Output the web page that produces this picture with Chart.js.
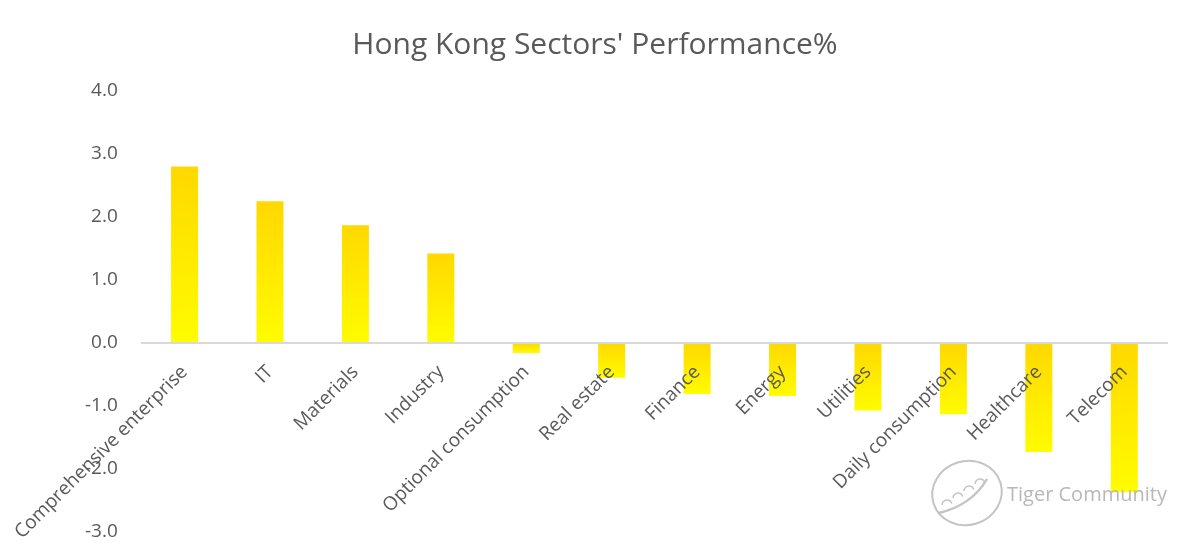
<!DOCTYPE html>
<html>
<head>
<meta charset="utf-8">
<script src="https://cdn.jsdelivr.net/npm/chart.js@4.4.1/dist/chart.umd.min.js"></script>
<style>
  html, body { margin: 0; padding: 0; background: #fff; }
  #wrap { width: 1190px; height: 555px; position: relative; }
</style>
</head>
<body>
<div id="wrap"><canvas id="c" width="1190" height="555"></canvas></div>
<script>
const titleText = "Hong Kong Sectors' Performance%";
const categories = ['Comprehensive enterprise', 'IT', 'Materials', 'Industry', 'Optional consumption', 'Real estate', 'Finance', 'Energy', 'Utilities', 'Daily consumption', 'Healthcare', 'Telecom'];
const performance = [2.80, 2.25, 1.87, 1.42, -0.16, -0.55, -0.81, -0.84, -1.07, -1.13, -1.73, -2.37];
const yTicks = [-3, -2, -1, 0, 1, 2, 3, 4];
const watermarkText = 'Tiger Community';

const FONT = "'Open Sans', 'Noto Sans', sans-serif";
const TEXT = '#595959';

function barGradient(ctx) {
  const chart = ctx.chart;
  const area = chart.chartArea;
  const y = chart.scales.y;
  if (!area || !y || ctx.type !== 'data') return '#FFE800';
  const v = ctx.raw;
  const p0 = y.getPixelForValue(0);
  const p1 = y.getPixelForValue(v);
  const top = Math.min(p0, p1), bottom = Math.max(p0, p1);
  if (!isFinite(top) || bottom - top < 1) return '#FFE000';
  const g = chart.ctx.createLinearGradient(0, top, 0, bottom);
  g.addColorStop(0, '#FFD800');
  g.addColorStop(1, '#FFFC00');
  return g;
}

const titlePlugin = {
  id: 'customTitle',
  afterDraw(chart) {
    const c = chart.ctx;
    c.save();
    c.fillStyle = TEXT;
    c.font = "30px " + FONT;
    c.textAlign = 'center';
    c.textBaseline = 'middle';
    c.fillText(titleText, 595, 45);
    c.restore();
  }
};

const watermark = {
  id: 'watermark',
  afterDraw(chart) {
    const c = chart.ctx;
    c.save();
    const cx = 967, cy = 493, r = 35;
    c.strokeStyle = '#c4c4c4';
    c.lineWidth = 2;
    c.beginPath();
    c.ellipse(cx, cy, r, r - 3, -0.3, 0, Math.PI * 2);
    c.stroke();
    c.lineWidth = 2.5;
    c.beginPath();
    c.moveTo(cx - 28, cy + 20);
    c.quadraticCurveTo(cx + 5, cy + 12, cx + 20, cy - 14);
    c.stroke();
    c.lineWidth = 1.5;
    for (let i = 0; i < 4; i++) {
      c.beginPath();
      c.arc(cx - 20 + i * 11, cy + 12 - i * 7, 5, Math.PI, Math.PI * 1.9);
      c.stroke();
    }
    c.fillStyle = '#b8b8b8';
    c.font = "20px " + FONT;
    c.textAlign = 'left';
    c.textBaseline = 'middle';
    c.fillText(watermarkText, 1007, 495);
    c.restore();
  }
};

new Chart(document.getElementById('c'), {
  type: 'bar',
  data: {
    labels: categories,
    datasets: [{
      data: performance,
      backgroundColor: barGradient,
      borderWidth: 0,
      categoryPercentage: 1.0,
      barPercentage: 0.316
    }]
  },
  options: {
    responsive: false,
    animation: false,
    devicePixelRatio: 1,
    layout: { padding: { left: 61, right: 23, top: 91, bottom: 23 } },
    plugins: {
      legend: { display: false },
      tooltip: { enabled: false },
      title: { display: false }
    },
    scales: {
      x: {
        position: { y: 0 },
        afterFit(scale) {
          scale.height = 0;
          scale.paddingLeft = 0;
          scale.paddingRight = 0;
          scale.paddingTop = 0;
          scale.paddingBottom = 0;
        },
        grid: { display: false, drawTicks: false },
        border: { display: true, color: '#d9d9d9', width: 2, z: 1 },
        ticks: {
          z: 1,
          color: TEXT,
          font: { family: FONT, size: 19 },
          maxRotation: 45,
          minRotation: 45,
          autoSkip: false,
          padding: 18
        }
      },
      y: {
        min: -3,
        max: 4,
        afterBuildTicks(scale) { scale.ticks = yTicks.map(v => ({ value: v })); },
        afterFit(scale) {
          scale.paddingTop = 0;
          scale.paddingBottom = 0;
        },
        grid: { display: false, drawTicks: false },
        border: { display: false },
        ticks: {
          color: TEXT,
          font: { family: FONT, size: 19 },
          padding: 24,
          callback: v => Number(v).toFixed(1)
        }
      }
    }
  },
  plugins: [titlePlugin, watermark]
});
</script>
</body>
</html>
